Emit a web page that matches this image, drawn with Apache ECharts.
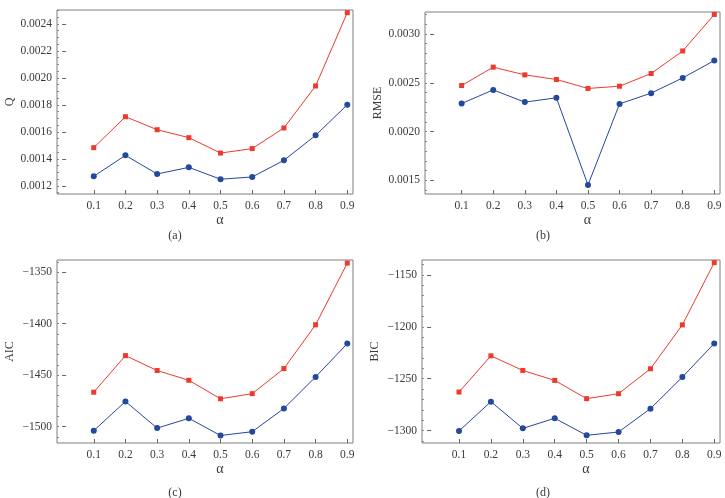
<!DOCTYPE html>
<html>
<head>
<meta charset="utf-8">
<style>html,body{margin:0;padding:0;background:#fff;}#c{width:725px;height:498px;}</style>
<script src="https://cdn.jsdelivr.net/npm/echarts@6/dist/echarts.min.js"></script>
</head>
<body>
<div id="c"></div>
<script>
// ---- data ----
const alpha = [0.1, 0.2, 0.3, 0.4, 0.5, 0.6, 0.7, 0.8, 0.9];

const qRed  = [0.001484, 0.001713, 0.001617, 0.001558, 0.001444, 0.001477, 0.001630, 0.001941, 0.002484];
const qBlue = [0.001272, 0.001427, 0.001289, 0.001338, 0.001250, 0.001267, 0.001390, 0.001575, 0.001802];

const rmseRed  = [0.002472, 0.002660, 0.002581, 0.002534, 0.002442, 0.002465, 0.002595, 0.002826, 0.003200];
const rmseBlue = [0.002288, 0.002427, 0.002302, 0.002346, 0.001453, 0.002284, 0.002394, 0.002550, 0.002728];

const aicRed  = [-1466.6, -1431.0, -1445.5, -1455.0, -1473.0, -1468.0, -1443.6, -1401.0, -1341.0];
const aicBlue = [-1504.0, -1475.6, -1501.5, -1492.0, -1508.7, -1505.0, -1482.4, -1451.7, -1419.3];

const bicRed  = [-1262.8, -1227.9, -1242.0, -1251.6, -1269.2, -1264.4, -1240.4, -1198.1, -1138.1];
const bicBlue = [-1300.3, -1272.1, -1297.8, -1288.1, -1304.5, -1301.3, -1278.8, -1248.4, -1216.0];

const xTicks = [0.1, 0.2, 0.3, 0.4, 0.5, 0.6, 0.7, 0.8, 0.9];
const qTicks = [0.0012, 0.0014, 0.0016, 0.0018, 0.0020, 0.0022, 0.0024];
const rmseTicks = [0.0015, 0.0020, 0.0025, 0.0030];
const aicTicks = [-1500, -1450, -1400, -1350];
const bicTicks = [-1300, -1250, -1200, -1150];

const yNames = ['Q', 'RMSE', 'AIC', 'BIC'];
const panelLabels = ['(a)', '(b)', '(c)', '(d)'];

// ---- layout ----
const panels = [
  {grid: {left: 57, top: 10, width: 296, height: 184}, ymin: 0.0011407, ymax: 0.0025037, ticks: qTicks, minorStep: 0.00005, dec: 4, red: qRed, blue: qBlue, lab: [175, 236]},
  {grid: {left: 425, top: 12, width: 295, height: 182}, ymin: 0.001361, ymax: 0.003225, ticks: rmseTicks, minorStep: 0.0001, dec: 4, red: rmseRed, blue: rmseBlue, lab: [543, 236]},
  {grid: {left: 57, top: 260, width: 296, height: 183}, ymin: -1516, ymax: -1338, ticks: aicTicks, minorStep: 10, dec: 0, red: aicRed, blue: aicBlue, lab: [175, 493]},
  {grid: {left: 422, top: 260, width: 298, height: 183}, ymin: -1311.9, ymax: -1135.6, ticks: bicTicks, minorStep: 10, dec: 0, red: bicRed, blue: bicBlue, lab: [543, 493]}
];

const RED = '#ec3a2c', BLUE = '#23489e';
const FONT = 'Liberation Serif';
const TXT = '#3a3a3a';

function fmt(v, dec) {
  const s = Math.abs(v).toFixed(dec);
  return v < 0 ? '\u2212' + s : s;
}
function minorValues(lo, hi, step) {
  const out = [];
  const start = Math.ceil(lo / step - 1e-9);
  for (let k = start; k * step <= hi + 1e-12; k++) out.push(+(k * step).toFixed(8));
  return out;
}

const grid = [], xAxis = [], yAxis = [], series = [], graphic = [];
panels.forEach((p, i) => {
  grid.push(Object.assign({show: true, borderColor: '#7f7f7f', borderWidth: 1, backgroundColor: 'transparent'}, p.grid));
  xAxis.push({
    type: 'value', gridIndex: i, min: -0.016, max: 0.918,
    name: '\u03b1', nameLocation: 'middle', nameGap: 17,
    nameTextStyle: {fontFamily: FONT, fontSize: 14, color: TXT, padding: [0, 0, 0, 30]},
    axisLine: {show: false},
    axisTick: {show: true, inside: true, length: 4, customValues: xTicks, lineStyle: {color: '#666'}},
    axisLabel: {customValues: xTicks, formatter: v => v.toFixed(1), fontFamily: FONT, fontSize: 11.5, color: TXT, margin: 6},
    splitLine: {show: false}
  });
  // main y axis (labels + major ticks)
  yAxis.push({
    type: 'value', gridIndex: i, min: p.ymin, max: p.ymax,
    name: yNames[i], nameLocation: 'middle', nameGap: 41,
    nameTextStyle: {fontFamily: FONT, fontSize: 12, color: TXT},
    axisLine: {show: false},
    axisTick: {show: true, inside: true, length: 4, customValues: p.ticks, lineStyle: {color: '#666'}},
    axisLabel: {customValues: p.ticks, formatter: v => fmt(v, p.dec), fontFamily: FONT, fontSize: 11.5, color: TXT, margin: 5},
    splitLine: {show: false}
  });
  // overlay y axis for minor ticks
  yAxis.push({
    type: 'value', gridIndex: i, min: p.ymin, max: p.ymax, position: 'left',
    axisLine: {show: false},
    axisTick: {show: true, inside: true, length: 2, customValues: minorValues(p.ymin, p.ymax, p.minorStep), lineStyle: {color: '#888'}},
    axisLabel: {show: false},
    splitLine: {show: false}
  });
  const yi = yAxis.length - 2;
  series.push({
    type: 'line', xAxisIndex: i, yAxisIndex: yi,
    data: alpha.map((a, k) => [a, p.red[k]]),
    symbol: 'rect', symbolSize: 5, showSymbol: true,
    lineStyle: {color: RED, width: 1}, itemStyle: {color: RED},
    silent: true, animation: false
  });
  series.push({
    type: 'line', xAxisIndex: i, yAxisIndex: yi,
    data: alpha.map((a, k) => [a, p.blue[k]]),
    symbol: 'circle', symbolSize: 6, showSymbol: true,
    lineStyle: {color: BLUE, width: 1}, itemStyle: {color: BLUE},
    silent: true, animation: false
  });
  graphic.push({
    type: 'text', x: p.lab[0], y: p.lab[1],
    style: {text: panelLabels[i], textAlign: 'center', textVerticalAlign: 'middle', fontFamily: FONT, fontSize: 12, fill: TXT}
  });
});

const chart = echarts.init(document.getElementById('c'), null, {renderer: 'canvas'});
chart.setOption({
  animation: false,
  backgroundColor: '#fff',
  grid, xAxis, yAxis, series, graphic
});
</script>
</body>
</html>
